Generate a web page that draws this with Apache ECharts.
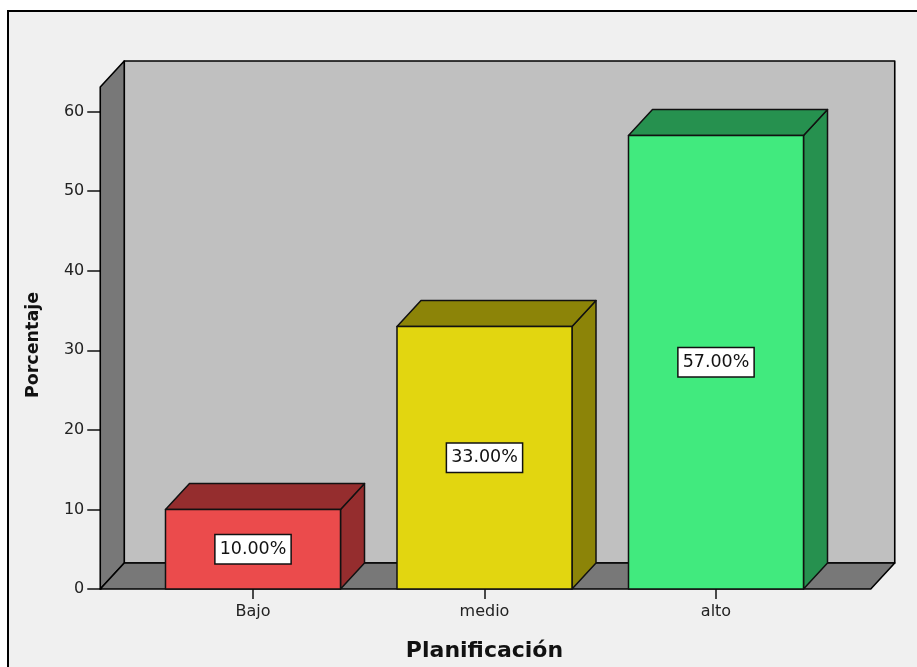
<!DOCTYPE html>
<html>
<head>
<meta charset="utf-8">
<style>
  html, body { margin: 0; padding: 0; background: #ffffff; }
  #chart { width: 917px; height: 667px; }
</style>
<script src="https://cdn.jsdelivr.net/npm/echarts@6/dist/echarts.min.js"></script>
</head>
<body>
<div id="chart"></div>
<script>
// Planificación: share of respondents per level
const categories = ['Bajo', 'medio', 'alto'];
const percentages = [10, 33, 57];
const frontColors = ['#EB4B4C', '#E2D610', '#41EA7E'];
const shadeColors = ['#952D2E', '#8C8408', '#26914F'];

const Y_MAX = 63.1;          // top of the plot box in axis units
const DEPTH_X = 24;          // 3D depth offset (px)
const DEPTH_Y = -26;
const PAD_LEFT = 37;         // floor/wall extension beyond the category bands
const PAD_RIGHT = 39;
const BAR_RATIO = 0.756;     // bar face width / band width
const FONT = '"DejaVu Sans", sans-serif';

const chart = echarts.init(document.getElementById('chart'), null, { renderer: 'canvas' });

function renderWalls(params, api) {
  const cs = params.coordSys;
  const yBot = api.coord([0, 0])[1];
  const yTop = api.coord([0, Y_MAX])[1];
  const xl = cs.x - PAD_LEFT;
  const xr = cs.x + cs.width + PAD_RIGHT;
  const edge = { stroke: '#000', lineWidth: 1.6, lineJoin: 'round' };
  return {
    type: 'group',
    children: [
      { type: 'polygon', shape: { points: [[xl + DEPTH_X, yTop + DEPTH_Y], [xr + DEPTH_X, yTop + DEPTH_Y], [xr + DEPTH_X, yBot + DEPTH_Y], [xl + DEPTH_X, yBot + DEPTH_Y]] },
        style: Object.assign({ fill: '#C0C0C0' }, edge) },
      { type: 'polygon', shape: { points: [[xl, yBot], [xl, yTop], [xl + DEPTH_X, yTop + DEPTH_Y], [xl + DEPTH_X, yBot + DEPTH_Y]] },
        style: Object.assign({ fill: '#787878' }, edge) },
      { type: 'polygon', shape: { points: [[xl, yBot], [xr, yBot], [xr + DEPTH_X, yBot + DEPTH_Y], [xl + DEPTH_X, yBot + DEPTH_Y]] },
        style: Object.assign({ fill: '#787878' }, edge) }
    ]
  };
}

function renderBar(params, api) {
  const i = api.value(0);
  const v = api.value(1);
  const base = api.coord([i, 0]);
  const top = api.coord([i, v]);
  const w = api.size([1, 0])[0] * BAR_RATIO;
  const x0 = base[0] - w / 2, x1 = base[0] + w / 2;
  const yT = top[1], yB = base[1];
  const edge = { stroke: '#111', lineWidth: 1.5, lineJoin: 'round' };
  return {
    type: 'group',
    children: [
      { type: 'polygon', shape: { points: [[x1, yT], [x1 + DEPTH_X, yT + DEPTH_Y], [x1 + DEPTH_X, yB + DEPTH_Y], [x1, yB]] },
        style: Object.assign({ fill: shadeColors[i] }, edge) },
      { type: 'polygon', shape: { points: [[x0, yT], [x1, yT], [x1 + DEPTH_X, yT + DEPTH_Y], [x0 + DEPTH_X, yT + DEPTH_Y]] },
        style: Object.assign({ fill: shadeColors[i] }, edge) },
      { type: 'rect', shape: { x: x0, y: yT, width: w, height: yB - yT },
        style: Object.assign({ fill: frontColors[i] }, edge) },
      { type: 'text', x: base[0], y: (yT + yB) / 2,
        style: {
          text: v.toFixed(2) + '%', align: 'center', verticalAlign: 'middle',
          font: '17.5px ' + FONT, fill: '#111',
          backgroundColor: '#fff', borderColor: '#111', borderWidth: 1.5,
          padding: [5, 4, 5, 4]
        } }
    ]
  };
}

chart.setOption({
  backgroundColor: '#ffffff',
  animation: false,
  graphic: [{
    type: 'rect', z: -10,
    shape: { x: 8, y: 11, width: 940, height: 700 },
    style: { fill: '#F0F0F0', stroke: '#000', lineWidth: 2 }
  }],
  grid: { left: 137.25, right: 85.25, top: 87, bottom: 78, outerBoundsMode: 'none' },
  xAxis: {
    type: 'category',
    data: categories,
    name: 'Planificación',
    nameLocation: 'middle',
    nameGap: 51,
    nameTextStyle: { fontFamily: FONT, fontWeight: 'bold', fontSize: 22, color: '#111' },
    axisLine: { show: false },
    axisTick: { show: true, alignWithLabel: true, length: 10, lineStyle: { color: '#111', width: 1.5 } },
    axisLabel: { margin: 15, fontFamily: FONT, fontSize: 16, color: '#222' },
    splitLine: { show: false }
  },
  yAxis: {
    type: 'value',
    min: 0,
    max: Y_MAX,
    interval: 10,
    offset: 37,
    name: 'Porcentaje',
    nameLocation: 'middle',
    nameRotate: 90,
    nameGap: 58,
    nameTextStyle: { fontFamily: FONT, fontWeight: 'bold', fontSize: 17.5, color: '#111', padding: [0, 14, 0, 0] },
    axisLine: { show: true, lineStyle: { color: '#111', width: 1.6 } },
    axisTick: { show: true, inside: false, length: 13, lineStyle: { color: '#111', width: 1.5 } },
    axisLabel: { margin: 16, fontFamily: FONT, fontSize: 16, color: '#222', showMaxLabel: false },
    splitLine: { show: false }
  },
  series: [
    { type: 'custom', name: 'walls', renderItem: renderWalls, data: [[0, 0]], silent: true, z: 1 },
    { type: 'custom', name: 'Porcentaje', renderItem: renderBar, z: 3,
      data: percentages.map((p, i) => [i, p]) }
  ]
});
</script>
</body>
</html>
